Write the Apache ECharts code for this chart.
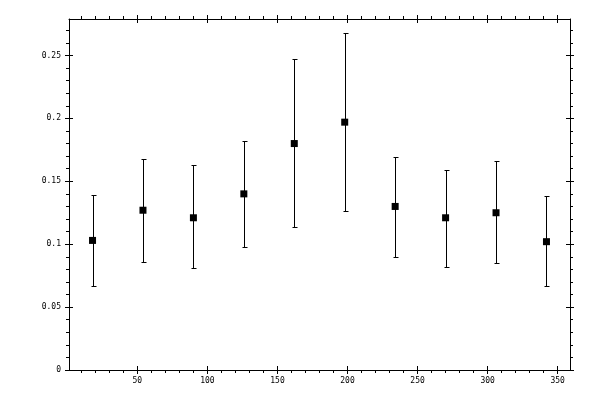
<!DOCTYPE html>
<html>
<head>
<meta charset="utf-8">
<script src="https://cdn.jsdelivr.net/npm/echarts@6/dist/echarts.min.js"></script>
<style>html,body{margin:0;padding:0;background:#fff}#c{width:600px;height:400px}</style>
</head>
<body>
<div id="c"></div>
<script>
// data
var xVals = [18, 54, 90, 126, 162, 198, 234, 270, 306, 342];
var yVals = [0.103, 0.127, 0.121, 0.140, 0.180, 0.197, 0.130, 0.121, 0.125, 0.102];
var yHigh = [0.139, 0.168, 0.163, 0.182, 0.247, 0.268, 0.169, 0.159, 0.166, 0.138];
var yLow  = [0.067, 0.086, 0.081, 0.098, 0.114, 0.126, 0.090, 0.082, 0.085, 0.067];

// tick labels
var xMajor = [50, 100, 150, 200, 250, 300, 350];
var xMinor = [10, 20, 30, 40, 60, 70, 80, 90, 110, 120, 130, 140, 160, 170, 180, 190,
              210, 220, 230, 240, 260, 270, 280, 290, 310, 320, 330, 340];
var yMajor = [0, 0.05, 0.1, 0.15, 0.2, 0.25];
var yMinor = [0.01, 0.02, 0.03, 0.04, 0.06, 0.07, 0.08, 0.09, 0.11, 0.12, 0.13, 0.14,
              0.16, 0.17, 0.18, 0.19, 0.21, 0.22, 0.23, 0.24, 0.26, 0.27];

var X_MIN = 1.2, X_MAX = 358.8, Y_MIN = 0, Y_MAX = 0.279;
var FONT = 'DejaVu Sans Mono';
var LINE = {color: '#000', width: 1};

function mkAxis(type, pos, vals, len, inside, labels, showLine) {
  var isX = type === 'x';
  return {
    type: 'value', position: pos,
    min: isX ? X_MIN : Y_MIN, max: isX ? X_MAX : Y_MAX,
    splitLine: {show: false},
    axisLine: {show: showLine, onZero: false, lineStyle: LINE},
    axisTick: {show: true, customValues: vals, length: len, inside: inside, lineStyle: LINE},
    axisLabel: labels ? {
      show: true, customValues: vals, color: '#000', fontFamily: FONT, fontSize: 8,
      margin: isX ? 7 : 8
    } : {show: false},
    minorTick: {show: false}
  };
}

var xData = [];
for (var i = 0; i < xVals.length; i++) xData.push([xVals[i], yVals[i]]);
var errData = [];
for (var j = 0; j < xVals.length; j++) errData.push([xVals[j], yLow[j], yHigh[j]]);

var chart = echarts.init(document.getElementById('c'), null, {renderer: 'canvas'});
chart.setOption({
  animation: false,
  backgroundColor: '#fff',
  grid: {left: 69, right: 30, top: 19, bottom: 30, containLabel: false},
  xAxis: [
    mkAxis('x', 'bottom', xMajor, 4, false, true, true),
    mkAxis('x', 'bottom', xMajor, 4, true, false, false),
    mkAxis('x', 'bottom', xMinor, 3, false, false, false),
    mkAxis('x', 'top', xMajor, 4, false, false, true),
    mkAxis('x', 'top', xMajor, 4, true, false, false),
    mkAxis('x', 'top', xMinor, 3, false, false, false)
  ],
  yAxis: [
    mkAxis('y', 'left', yMajor, 4, false, true, true),
    mkAxis('y', 'left', yMajor, 4, true, false, false),
    mkAxis('y', 'left', yMinor, 3, false, false, false),
    mkAxis('y', 'right', yMajor, 4, false, false, true),
    mkAxis('y', 'right', yMajor, 4, true, false, false),
    mkAxis('y', 'right', yMinor, 3, false, false, false)
  ],
  series: [
    {
      type: 'custom', xAxisIndex: 0, yAxisIndex: 0,
      data: errData,
      renderItem: function (params, api) {
        var top = api.coord([api.value(0), api.value(2)]);
        var bot = api.coord([api.value(0), api.value(1)]);
        var x = Math.round(top[0]) + 0.5;
        var t = Math.round(top[1]) + 0.5, b = Math.round(bot[1]) + 0.5;
        var cap = 2;
        var st = {stroke: '#000', lineWidth: 1};
        return {
          type: 'group',
          children: [
            {type: 'line', shape: {x1: x, y1: t, x2: x, y2: b}, style: st},
            {type: 'line', shape: {x1: x - cap, y1: t, x2: x + cap + 1, y2: t}, style: st},
            {type: 'line', shape: {x1: x - cap, y1: b, x2: x + cap + 1, y2: b}, style: st}
          ]
        };
      },
      z: 2
    },
    {
      type: 'scatter', xAxisIndex: 0, yAxisIndex: 0,
      data: xData, symbol: 'rect', symbolSize: 7,
      itemStyle: {color: '#000', opacity: 1}, z: 3
    }
  ]
});
</script>
</body>
</html>
